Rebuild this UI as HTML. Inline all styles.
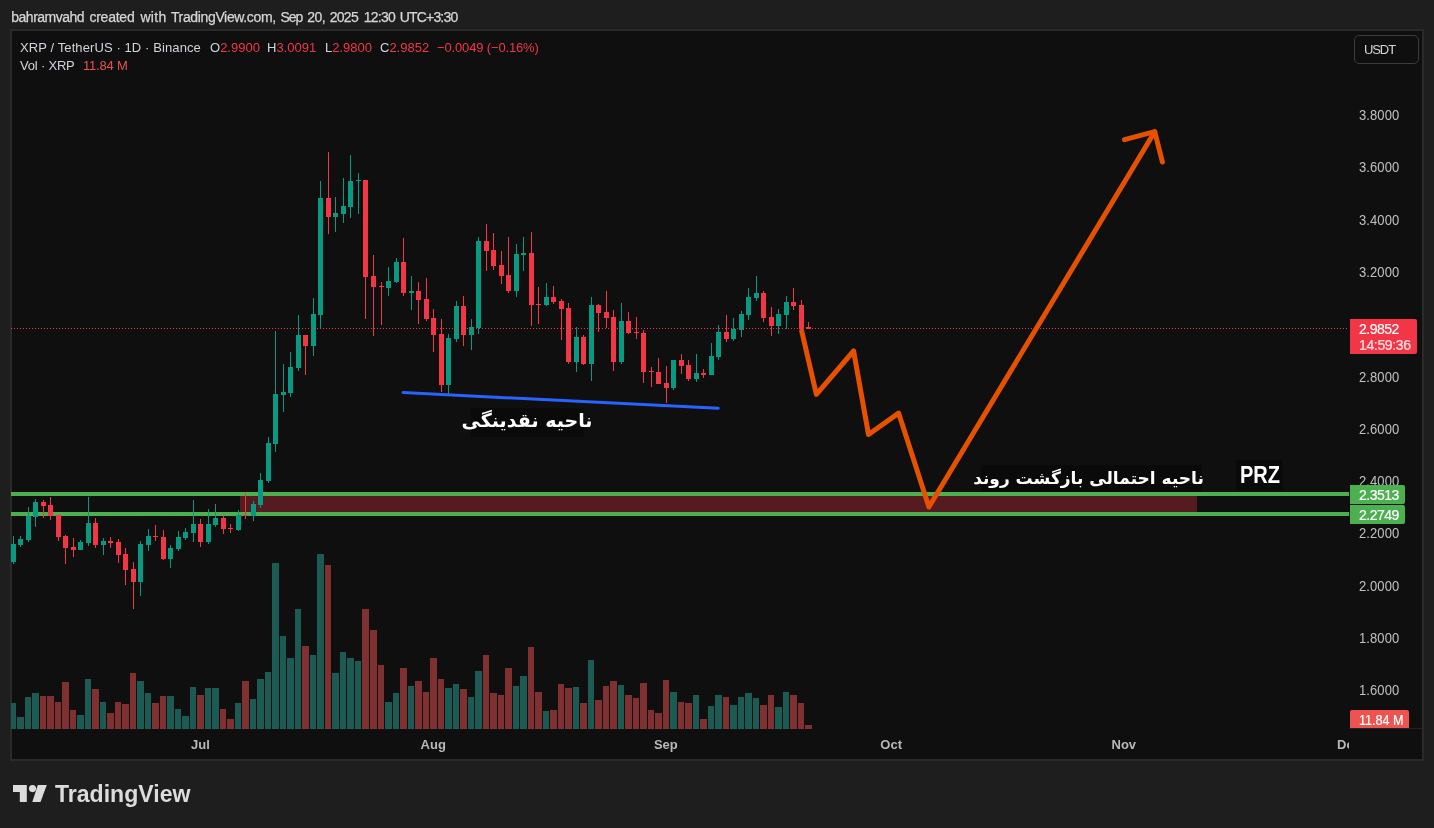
<!DOCTYPE html>
<html><head><meta charset="utf-8"><title>XRP chart</title>
<style>
html,body{margin:0;padding:0}
body{width:1434px;height:828px;background:#1e1e1e;position:relative;overflow:hidden;font-family:"Liberation Sans",sans-serif;color:#d1d4dc}
.abs{position:absolute;white-space:nowrap}
#frame{position:absolute;left:10px;top:29px;width:1414px;height:732px;box-sizing:border-box;border:2px solid #2a2a2a;background:#0f0f0f}
.tw{position:absolute;top:9px;font-size:14px;line-height:16px;color:#d6d6d6;white-space:nowrap;-webkit-text-stroke:0.25px #d6d6d6}
.lg{position:absolute;white-space:nowrap;font-size:13px;line-height:16px;color:#d1d4dc}
.red{color:#f23645}
.pl{position:absolute;left:1359px;width:41px;font-size:13px;line-height:16px;color:#c0c0c0;white-space:nowrap;transform:scaleY(1.15);transform-origin:0 3.5px;letter-spacing:0.1px}
.ml{position:absolute;top:737px;width:40px;text-align:center;font-size:13px;font-weight:bold;line-height:16px;color:#b8b8b8;white-space:nowrap}
.tag{position:absolute;left:1350px;color:#fff;-webkit-text-stroke:0.2px #fff;font-size:14px;letter-spacing:-0.5px;line-height:16px;white-space:nowrap;box-sizing:border-box;padding-left:9px}
svg{position:absolute;left:0;top:0}
#txt,#title{position:absolute;left:0;top:0;width:1434px;height:828px;will-change:transform}
</style></head><body>
<div id="title"><span class="tw" style="left:11.3px;letter-spacing:-0.50px">bahramvahd</span><span class="tw" style="left:89.4px;letter-spacing:-0.23px">created</span><span class="tw" style="left:140.4px;letter-spacing:0.37px">with</span><span class="tw" style="left:170.9px;letter-spacing:-0.35px">TradingView.com,</span><span class="tw" style="left:280.5px;letter-spacing:-1.00px">Sep</span><span class="tw" style="left:307.2px;letter-spacing:-0.55px">20,</span><span class="tw" style="left:329.8px;letter-spacing:-0.76px">2025</span><span class="tw" style="left:363.7px;letter-spacing:-0.72px">12:30</span><span class="tw" style="left:399.7px;letter-spacing:-0.81px">UTC+3:30</span></div>
<div id="frame"></div>
<div class="abs" style="left:1349px;top:728px;width:73px;height:1px;background:#222"></div>
<svg width="1434" height="828" viewBox="0 0 1434 828" shape-rendering="crispEdges">
<defs><clipPath id="cp"><rect x="11" y="31" width="1338" height="698"/></clipPath></defs>
<g clip-path="url(#cp)">
<rect x="10" y="703" width="6" height="26" fill="#1c5a54"/>
<rect x="17" y="717" width="7" height="12" fill="#1c5a54"/>
<rect x="25" y="697" width="6" height="32" fill="#1c5a54"/>
<rect x="32" y="693" width="7" height="36" fill="#1c5a54"/>
<rect x="40" y="696" width="6" height="33" fill="#7f3131"/>
<rect x="47" y="696" width="7" height="33" fill="#7f3131"/>
<rect x="55" y="702" width="6" height="27" fill="#7f3131"/>
<rect x="62" y="682" width="7" height="47" fill="#7f3131"/>
<rect x="70" y="710" width="6" height="19" fill="#7f3131"/>
<rect x="77" y="715" width="7" height="14" fill="#1c5a54"/>
<rect x="85" y="679" width="6" height="50" fill="#1c5a54"/>
<rect x="92" y="689" width="7" height="40" fill="#7f3131"/>
<rect x="100" y="702" width="6" height="27" fill="#1c5a54"/>
<rect x="107" y="713" width="7" height="16" fill="#7f3131"/>
<rect x="115" y="702" width="6" height="27" fill="#7f3131"/>
<rect x="122" y="704" width="7" height="25" fill="#7f3131"/>
<rect x="130" y="673" width="6" height="56" fill="#7f3131"/>
<rect x="137" y="681" width="7" height="48" fill="#1c5a54"/>
<rect x="145" y="693" width="6" height="36" fill="#1c5a54"/>
<rect x="152" y="703" width="7" height="26" fill="#7f3131"/>
<rect x="160" y="696" width="6" height="33" fill="#7f3131"/>
<rect x="167" y="696" width="7" height="33" fill="#1c5a54"/>
<rect x="175" y="709" width="6" height="20" fill="#1c5a54"/>
<rect x="182" y="716" width="7" height="13" fill="#1c5a54"/>
<rect x="190" y="687" width="6" height="42" fill="#1c5a54"/>
<rect x="197" y="695" width="7" height="34" fill="#7f3131"/>
<rect x="205" y="688" width="6" height="41" fill="#1c5a54"/>
<rect x="212" y="688" width="7" height="41" fill="#1c5a54"/>
<rect x="220" y="709" width="6" height="20" fill="#7f3131"/>
<rect x="227" y="719" width="7" height="10" fill="#7f3131"/>
<rect x="235" y="703" width="6" height="26" fill="#1c5a54"/>
<rect x="242" y="681" width="7" height="48" fill="#7f3131"/>
<rect x="250" y="699" width="6" height="30" fill="#1c5a54"/>
<rect x="257" y="679" width="7" height="50" fill="#1c5a54"/>
<rect x="265" y="672" width="6" height="57" fill="#1c5a54"/>
<rect x="272" y="563" width="7" height="166" fill="#1c5a54"/>
<rect x="280" y="636" width="6" height="93" fill="#1c5a54"/>
<rect x="287" y="658" width="7" height="71" fill="#1c5a54"/>
<rect x="295" y="609" width="6" height="120" fill="#1c5a54"/>
<rect x="302" y="646" width="7" height="83" fill="#7f3131"/>
<rect x="310" y="655" width="6" height="74" fill="#1c5a54"/>
<rect x="317" y="554" width="7" height="175" fill="#1c5a54"/>
<rect x="325" y="565" width="6" height="164" fill="#7f3131"/>
<rect x="332" y="673" width="7" height="56" fill="#1c5a54"/>
<rect x="340" y="652" width="6" height="77" fill="#1c5a54"/>
<rect x="347" y="658" width="7" height="71" fill="#1c5a54"/>
<rect x="355" y="661" width="6" height="68" fill="#1c5a54"/>
<rect x="362" y="609" width="7" height="120" fill="#7f3131"/>
<rect x="370" y="630" width="7" height="99" fill="#7f3131"/>
<rect x="378" y="665" width="6" height="64" fill="#7f3131"/>
<rect x="385" y="702" width="7" height="27" fill="#1c5a54"/>
<rect x="393" y="693" width="6" height="36" fill="#1c5a54"/>
<rect x="400" y="668" width="7" height="61" fill="#7f3131"/>
<rect x="408" y="686" width="6" height="43" fill="#1c5a54"/>
<rect x="415" y="681" width="7" height="48" fill="#7f3131"/>
<rect x="423" y="692" width="6" height="37" fill="#7f3131"/>
<rect x="430" y="658" width="7" height="71" fill="#7f3131"/>
<rect x="438" y="679" width="6" height="50" fill="#7f3131"/>
<rect x="445" y="688" width="7" height="41" fill="#1c5a54"/>
<rect x="453" y="684" width="6" height="45" fill="#1c5a54"/>
<rect x="460" y="689" width="7" height="40" fill="#7f3131"/>
<rect x="468" y="697" width="6" height="32" fill="#1c5a54"/>
<rect x="475" y="671" width="7" height="58" fill="#1c5a54"/>
<rect x="483" y="655" width="6" height="74" fill="#7f3131"/>
<rect x="490" y="693" width="7" height="36" fill="#7f3131"/>
<rect x="498" y="695" width="6" height="34" fill="#7f3131"/>
<rect x="505" y="668" width="7" height="61" fill="#7f3131"/>
<rect x="513" y="686" width="6" height="43" fill="#1c5a54"/>
<rect x="520" y="676" width="7" height="53" fill="#1c5a54"/>
<rect x="528" y="647" width="6" height="82" fill="#7f3131"/>
<rect x="535" y="692" width="7" height="37" fill="#7f3131"/>
<rect x="543" y="711" width="6" height="18" fill="#1c5a54"/>
<rect x="550" y="710" width="7" height="19" fill="#7f3131"/>
<rect x="558" y="684" width="6" height="45" fill="#7f3131"/>
<rect x="565" y="688" width="7" height="41" fill="#7f3131"/>
<rect x="573" y="687" width="6" height="42" fill="#1c5a54"/>
<rect x="580" y="703" width="7" height="26" fill="#7f3131"/>
<rect x="588" y="660" width="6" height="69" fill="#1c5a54"/>
<rect x="595" y="700" width="7" height="29" fill="#7f3131"/>
<rect x="603" y="686" width="6" height="43" fill="#7f3131"/>
<rect x="610" y="681" width="7" height="48" fill="#7f3131"/>
<rect x="618" y="685" width="6" height="44" fill="#1c5a54"/>
<rect x="625" y="695" width="7" height="34" fill="#7f3131"/>
<rect x="633" y="698" width="6" height="31" fill="#7f3131"/>
<rect x="640" y="683" width="7" height="46" fill="#7f3131"/>
<rect x="648" y="710" width="6" height="19" fill="#7f3131"/>
<rect x="655" y="713" width="7" height="16" fill="#7f3131"/>
<rect x="663" y="680" width="6" height="49" fill="#7f3131"/>
<rect x="670" y="692" width="7" height="37" fill="#1c5a54"/>
<rect x="678" y="702" width="6" height="27" fill="#7f3131"/>
<rect x="685" y="703" width="7" height="26" fill="#7f3131"/>
<rect x="693" y="695" width="6" height="34" fill="#1c5a54"/>
<rect x="700" y="719" width="7" height="10" fill="#7f3131"/>
<rect x="708" y="706" width="6" height="23" fill="#1c5a54"/>
<rect x="715" y="695" width="7" height="34" fill="#1c5a54"/>
<rect x="723" y="697" width="6" height="32" fill="#7f3131"/>
<rect x="730" y="705" width="7" height="24" fill="#1c5a54"/>
<rect x="738" y="697" width="6" height="32" fill="#1c5a54"/>
<rect x="745" y="693" width="7" height="36" fill="#1c5a54"/>
<rect x="753" y="698" width="6" height="31" fill="#1c5a54"/>
<rect x="760" y="705" width="7" height="24" fill="#7f3131"/>
<rect x="768" y="695" width="6" height="34" fill="#7f3131"/>
<rect x="775" y="707" width="7" height="22" fill="#1c5a54"/>
<rect x="783" y="692" width="6" height="37" fill="#1c5a54"/>
<rect x="790" y="695" width="7" height="34" fill="#7f3131"/>
<rect x="798" y="703" width="6" height="26" fill="#7f3131"/>
<rect x="805" y="725" width="7" height="4" fill="#7f3131"/>
<rect x="240" y="496" width="957" height="16" fill="#561b20"/>
<rect x="11" y="492" width="1338" height="4" fill="#4caf50"/>
<rect x="11" y="512" width="1338" height="4" fill="#4caf50"/>
<g shape-rendering="geometricPrecision"><path d="M403.2 392.6L718.3 408.2" stroke="#2962ff" stroke-width="3" stroke-linecap="round" fill="none"/><path d="M801.7 331L816.4 394.4L853.6 351L868.5 434.5L898.6 413.1L928.9 507L1154.7 131.7" stroke="#e65100" stroke-width="5" stroke-linecap="round" stroke-linejoin="round" fill="none"/><path d="M1124.5 139.6L1154.7 131.7L1162.4 162" stroke="#e65100" stroke-width="5" stroke-linecap="round" stroke-linejoin="round" fill="none"/></g>
<rect x="13" y="536" width="1" height="28" fill="#089981"/>
<rect x="11" y="544" width="5" height="18" fill="#089981"/>
<rect x="20" y="536" width="1" height="11" fill="#089981"/>
<rect x="18" y="539" width="5" height="6" fill="#089981"/>
<rect x="28" y="507" width="1" height="35" fill="#089981"/>
<rect x="26" y="516" width="5" height="24" fill="#089981"/>
<rect x="35" y="499" width="1" height="28" fill="#089981"/>
<rect x="33" y="502" width="5" height="15" fill="#089981"/>
<rect x="43" y="500" width="1" height="18" fill="#f23645"/>
<rect x="41" y="502" width="5" height="4" fill="#f23645"/>
<rect x="50" y="497" width="1" height="23" fill="#f23645"/>
<rect x="48" y="505" width="5" height="11" fill="#f23645"/>
<rect x="58" y="514" width="1" height="27" fill="#f23645"/>
<rect x="56" y="515" width="5" height="22" fill="#f23645"/>
<rect x="65" y="535" width="1" height="29" fill="#f23645"/>
<rect x="63" y="536" width="5" height="12" fill="#f23645"/>
<rect x="73" y="538" width="1" height="19" fill="#f23645"/>
<rect x="71" y="547" width="5" height="3" fill="#f23645"/>
<rect x="80" y="540" width="1" height="10" fill="#089981"/>
<rect x="78" y="542" width="5" height="8" fill="#089981"/>
<rect x="88" y="497" width="1" height="49" fill="#089981"/>
<rect x="86" y="523" width="5" height="20" fill="#089981"/>
<rect x="95" y="518" width="1" height="30" fill="#f23645"/>
<rect x="93" y="523" width="5" height="22" fill="#f23645"/>
<rect x="103" y="538" width="1" height="17" fill="#089981"/>
<rect x="101" y="541" width="5" height="4" fill="#089981"/>
<rect x="110" y="537" width="1" height="11" fill="#f23645"/>
<rect x="108" y="541" width="5" height="2" fill="#f23645"/>
<rect x="118" y="539" width="1" height="24" fill="#f23645"/>
<rect x="116" y="542" width="5" height="13" fill="#f23645"/>
<rect x="125" y="548" width="1" height="37" fill="#f23645"/>
<rect x="123" y="554" width="5" height="16" fill="#f23645"/>
<rect x="133" y="562" width="1" height="47" fill="#f23645"/>
<rect x="131" y="569" width="5" height="13" fill="#f23645"/>
<rect x="140" y="541" width="1" height="55" fill="#089981"/>
<rect x="138" y="544" width="5" height="38" fill="#089981"/>
<rect x="148" y="529" width="1" height="22" fill="#089981"/>
<rect x="146" y="536" width="5" height="9" fill="#089981"/>
<rect x="155" y="525" width="1" height="16" fill="#f23645"/>
<rect x="153" y="536" width="5" height="1" fill="#f23645"/>
<rect x="163" y="530" width="1" height="30" fill="#f23645"/>
<rect x="161" y="537" width="5" height="22" fill="#f23645"/>
<rect x="170" y="545" width="1" height="23" fill="#089981"/>
<rect x="168" y="548" width="5" height="11" fill="#089981"/>
<rect x="178" y="531" width="1" height="20" fill="#089981"/>
<rect x="176" y="537" width="5" height="12" fill="#089981"/>
<rect x="185" y="528" width="1" height="12" fill="#089981"/>
<rect x="183" y="532" width="5" height="6" fill="#089981"/>
<rect x="193" y="500" width="1" height="42" fill="#089981"/>
<rect x="191" y="524" width="5" height="9" fill="#089981"/>
<rect x="200" y="519" width="1" height="28" fill="#f23645"/>
<rect x="198" y="524" width="5" height="18" fill="#f23645"/>
<rect x="208" y="509" width="1" height="35" fill="#089981"/>
<rect x="206" y="524" width="5" height="18" fill="#089981"/>
<rect x="215" y="504" width="1" height="23" fill="#089981"/>
<rect x="213" y="518" width="5" height="7" fill="#089981"/>
<rect x="223" y="515" width="1" height="19" fill="#f23645"/>
<rect x="221" y="518" width="5" height="11" fill="#f23645"/>
<rect x="230" y="524" width="1" height="9" fill="#f23645"/>
<rect x="228" y="528" width="5" height="1" fill="#f23645"/>
<rect x="238" y="510" width="1" height="21" fill="#089981"/>
<rect x="236" y="515" width="5" height="15" fill="#089981"/>
<rect x="245" y="493" width="1" height="26" fill="#f23645"/>
<rect x="243" y="515" width="5" height="1" fill="#f23645"/>
<rect x="253" y="501" width="1" height="20" fill="#089981"/>
<rect x="251" y="504" width="5" height="12" fill="#089981"/>
<rect x="260" y="473" width="1" height="35" fill="#089981"/>
<rect x="258" y="480" width="5" height="25" fill="#089981"/>
<rect x="268" y="437" width="1" height="46" fill="#089981"/>
<rect x="266" y="443" width="5" height="38" fill="#089981"/>
<rect x="275" y="331" width="1" height="121" fill="#089981"/>
<rect x="273" y="394" width="5" height="50" fill="#089981"/>
<rect x="283" y="364" width="1" height="48" fill="#089981"/>
<rect x="281" y="392" width="5" height="3" fill="#089981"/>
<rect x="290" y="352" width="1" height="45" fill="#089981"/>
<rect x="288" y="367" width="5" height="26" fill="#089981"/>
<rect x="298" y="315" width="1" height="56" fill="#089981"/>
<rect x="296" y="335" width="5" height="33" fill="#089981"/>
<rect x="305" y="335" width="1" height="40" fill="#f23645"/>
<rect x="303" y="335" width="5" height="11" fill="#f23645"/>
<rect x="313" y="298" width="1" height="58" fill="#089981"/>
<rect x="311" y="314" width="5" height="32" fill="#089981"/>
<rect x="320" y="181" width="1" height="147" fill="#089981"/>
<rect x="318" y="198" width="5" height="117" fill="#089981"/>
<rect x="328" y="152" width="1" height="82" fill="#f23645"/>
<rect x="326" y="198" width="5" height="19" fill="#f23645"/>
<rect x="335" y="197" width="1" height="35" fill="#089981"/>
<rect x="333" y="213" width="5" height="4" fill="#089981"/>
<rect x="343" y="178" width="1" height="45" fill="#089981"/>
<rect x="341" y="206" width="5" height="8" fill="#089981"/>
<rect x="350" y="155" width="1" height="63" fill="#089981"/>
<rect x="348" y="181" width="5" height="26" fill="#089981"/>
<rect x="358" y="173" width="1" height="41" fill="#089981"/>
<rect x="356" y="180" width="5" height="1" fill="#089981"/>
<rect x="365" y="180" width="1" height="139" fill="#f23645"/>
<rect x="363" y="180" width="5" height="97" fill="#f23645"/>
<rect x="373" y="255" width="1" height="81" fill="#f23645"/>
<rect x="371" y="276" width="5" height="11" fill="#f23645"/>
<rect x="381" y="282" width="1" height="43" fill="#f23645"/>
<rect x="379" y="286" width="5" height="1" fill="#f23645"/>
<rect x="388" y="267" width="1" height="29" fill="#089981"/>
<rect x="386" y="281" width="5" height="7" fill="#089981"/>
<rect x="396" y="258" width="1" height="25" fill="#089981"/>
<rect x="394" y="262" width="5" height="20" fill="#089981"/>
<rect x="403" y="238" width="1" height="58" fill="#f23645"/>
<rect x="401" y="262" width="5" height="31" fill="#f23645"/>
<rect x="411" y="276" width="1" height="34" fill="#089981"/>
<rect x="409" y="291" width="5" height="2" fill="#089981"/>
<rect x="418" y="282" width="1" height="42" fill="#f23645"/>
<rect x="416" y="291" width="5" height="9" fill="#f23645"/>
<rect x="426" y="278" width="1" height="43" fill="#f23645"/>
<rect x="424" y="299" width="5" height="20" fill="#f23645"/>
<rect x="433" y="309" width="1" height="43" fill="#f23645"/>
<rect x="431" y="318" width="5" height="17" fill="#f23645"/>
<rect x="441" y="319" width="1" height="73" fill="#f23645"/>
<rect x="439" y="334" width="5" height="51" fill="#f23645"/>
<rect x="448" y="334" width="1" height="60" fill="#089981"/>
<rect x="446" y="338" width="5" height="47" fill="#089981"/>
<rect x="456" y="301" width="1" height="41" fill="#089981"/>
<rect x="454" y="306" width="5" height="33" fill="#089981"/>
<rect x="463" y="296" width="1" height="50" fill="#f23645"/>
<rect x="461" y="306" width="5" height="29" fill="#f23645"/>
<rect x="471" y="319" width="1" height="31" fill="#089981"/>
<rect x="469" y="327" width="5" height="8" fill="#089981"/>
<rect x="478" y="237" width="1" height="97" fill="#089981"/>
<rect x="476" y="241" width="5" height="87" fill="#089981"/>
<rect x="486" y="224" width="1" height="47" fill="#f23645"/>
<rect x="484" y="241" width="5" height="10" fill="#f23645"/>
<rect x="493" y="233" width="1" height="37" fill="#f23645"/>
<rect x="491" y="250" width="5" height="16" fill="#f23645"/>
<rect x="501" y="251" width="1" height="33" fill="#f23645"/>
<rect x="499" y="265" width="5" height="11" fill="#f23645"/>
<rect x="508" y="237" width="1" height="56" fill="#f23645"/>
<rect x="506" y="275" width="5" height="16" fill="#f23645"/>
<rect x="516" y="244" width="1" height="53" fill="#089981"/>
<rect x="514" y="254" width="5" height="37" fill="#089981"/>
<rect x="523" y="237" width="1" height="34" fill="#089981"/>
<rect x="521" y="253" width="5" height="2" fill="#089981"/>
<rect x="531" y="232" width="1" height="94" fill="#f23645"/>
<rect x="529" y="253" width="5" height="52" fill="#f23645"/>
<rect x="538" y="287" width="1" height="37" fill="#f23645"/>
<rect x="536" y="304" width="5" height="1" fill="#f23645"/>
<rect x="546" y="283" width="1" height="23" fill="#089981"/>
<rect x="544" y="297" width="5" height="8" fill="#089981"/>
<rect x="553" y="286" width="1" height="18" fill="#f23645"/>
<rect x="551" y="297" width="5" height="5" fill="#f23645"/>
<rect x="561" y="299" width="1" height="41" fill="#f23645"/>
<rect x="559" y="301" width="5" height="8" fill="#f23645"/>
<rect x="568" y="303" width="1" height="61" fill="#f23645"/>
<rect x="566" y="308" width="5" height="54" fill="#f23645"/>
<rect x="576" y="327" width="1" height="45" fill="#089981"/>
<rect x="574" y="337" width="5" height="25" fill="#089981"/>
<rect x="583" y="335" width="1" height="30" fill="#f23645"/>
<rect x="581" y="337" width="5" height="27" fill="#f23645"/>
<rect x="591" y="297" width="1" height="84" fill="#089981"/>
<rect x="589" y="305" width="5" height="59" fill="#089981"/>
<rect x="598" y="304" width="1" height="28" fill="#f23645"/>
<rect x="596" y="305" width="5" height="8" fill="#f23645"/>
<rect x="606" y="291" width="1" height="37" fill="#f23645"/>
<rect x="604" y="312" width="5" height="6" fill="#f23645"/>
<rect x="613" y="310" width="1" height="61" fill="#f23645"/>
<rect x="611" y="317" width="5" height="45" fill="#f23645"/>
<rect x="621" y="303" width="1" height="61" fill="#089981"/>
<rect x="619" y="321" width="5" height="41" fill="#089981"/>
<rect x="628" y="312" width="1" height="22" fill="#f23645"/>
<rect x="626" y="321" width="5" height="12" fill="#f23645"/>
<rect x="636" y="317" width="1" height="22" fill="#f23645"/>
<rect x="634" y="332" width="5" height="1" fill="#f23645"/>
<rect x="643" y="330" width="1" height="53" fill="#f23645"/>
<rect x="641" y="333" width="5" height="39" fill="#f23645"/>
<rect x="651" y="367" width="1" height="20" fill="#f23645"/>
<rect x="649" y="371" width="5" height="1" fill="#f23645"/>
<rect x="658" y="358" width="1" height="26" fill="#f23645"/>
<rect x="656" y="372" width="5" height="12" fill="#f23645"/>
<rect x="666" y="366" width="1" height="37" fill="#f23645"/>
<rect x="664" y="383" width="5" height="5" fill="#f23645"/>
<rect x="673" y="360" width="1" height="30" fill="#089981"/>
<rect x="671" y="360" width="5" height="28" fill="#089981"/>
<rect x="681" y="354" width="1" height="20" fill="#f23645"/>
<rect x="679" y="360" width="5" height="6" fill="#f23645"/>
<rect x="688" y="360" width="1" height="21" fill="#f23645"/>
<rect x="686" y="365" width="5" height="14" fill="#f23645"/>
<rect x="696" y="354" width="1" height="28" fill="#089981"/>
<rect x="694" y="373" width="5" height="6" fill="#089981"/>
<rect x="703" y="369" width="1" height="9" fill="#f23645"/>
<rect x="701" y="373" width="5" height="2" fill="#f23645"/>
<rect x="711" y="343" width="1" height="32" fill="#089981"/>
<rect x="709" y="356" width="5" height="19" fill="#089981"/>
<rect x="718" y="325" width="1" height="35" fill="#089981"/>
<rect x="716" y="332" width="5" height="25" fill="#089981"/>
<rect x="726" y="315" width="1" height="27" fill="#f23645"/>
<rect x="724" y="332" width="5" height="7" fill="#f23645"/>
<rect x="733" y="318" width="1" height="23" fill="#089981"/>
<rect x="731" y="329" width="5" height="10" fill="#089981"/>
<rect x="741" y="311" width="1" height="26" fill="#089981"/>
<rect x="739" y="314" width="5" height="16" fill="#089981"/>
<rect x="748" y="288" width="1" height="32" fill="#089981"/>
<rect x="746" y="297" width="5" height="18" fill="#089981"/>
<rect x="756" y="276" width="1" height="25" fill="#089981"/>
<rect x="754" y="293" width="5" height="5" fill="#089981"/>
<rect x="763" y="291" width="1" height="31" fill="#f23645"/>
<rect x="761" y="293" width="5" height="25" fill="#f23645"/>
<rect x="771" y="307" width="1" height="29" fill="#f23645"/>
<rect x="769" y="317" width="5" height="9" fill="#f23645"/>
<rect x="778" y="309" width="1" height="25" fill="#089981"/>
<rect x="776" y="314" width="5" height="12" fill="#089981"/>
<rect x="786" y="296" width="1" height="33" fill="#089981"/>
<rect x="784" y="302" width="5" height="13" fill="#089981"/>
<rect x="793" y="288" width="1" height="22" fill="#f23645"/>
<rect x="791" y="302" width="5" height="4" fill="#f23645"/>
<rect x="801" y="300" width="1" height="29" fill="#f23645"/>
<rect x="799" y="305" width="5" height="24" fill="#f23645"/>
<rect x="808" y="322" width="1" height="7" fill="#f23645"/>
<rect x="806" y="327" width="5" height="2" fill="#f23645"/>
<path d="M11 328h1v1h-1zM14 328h1v1h-1zM17 328h1v1h-1zM20 328h1v1h-1zM23 328h1v1h-1zM26 328h1v1h-1zM29 328h1v1h-1zM32 328h1v1h-1zM35 328h1v1h-1zM38 328h1v1h-1zM41 328h1v1h-1zM44 328h1v1h-1zM47 328h1v1h-1zM50 328h1v1h-1zM53 328h1v1h-1zM56 328h1v1h-1zM59 328h1v1h-1zM62 328h1v1h-1zM65 328h1v1h-1zM68 328h1v1h-1zM71 328h1v1h-1zM74 328h1v1h-1zM77 328h1v1h-1zM80 328h1v1h-1zM83 328h1v1h-1zM86 328h1v1h-1zM89 328h1v1h-1zM92 328h1v1h-1zM95 328h1v1h-1zM98 328h1v1h-1zM101 328h1v1h-1zM104 328h1v1h-1zM107 328h1v1h-1zM110 328h1v1h-1zM113 328h1v1h-1zM116 328h1v1h-1zM119 328h1v1h-1zM122 328h1v1h-1zM125 328h1v1h-1zM128 328h1v1h-1zM131 328h1v1h-1zM134 328h1v1h-1zM137 328h1v1h-1zM140 328h1v1h-1zM143 328h1v1h-1zM146 328h1v1h-1zM149 328h1v1h-1zM152 328h1v1h-1zM155 328h1v1h-1zM158 328h1v1h-1zM161 328h1v1h-1zM164 328h1v1h-1zM167 328h1v1h-1zM170 328h1v1h-1zM173 328h1v1h-1zM176 328h1v1h-1zM179 328h1v1h-1zM182 328h1v1h-1zM185 328h1v1h-1zM188 328h1v1h-1zM191 328h1v1h-1zM194 328h1v1h-1zM197 328h1v1h-1zM200 328h1v1h-1zM203 328h1v1h-1zM206 328h1v1h-1zM209 328h1v1h-1zM212 328h1v1h-1zM215 328h1v1h-1zM218 328h1v1h-1zM221 328h1v1h-1zM224 328h1v1h-1zM227 328h1v1h-1zM230 328h1v1h-1zM233 328h1v1h-1zM236 328h1v1h-1zM239 328h1v1h-1zM242 328h1v1h-1zM245 328h1v1h-1zM248 328h1v1h-1zM251 328h1v1h-1zM254 328h1v1h-1zM257 328h1v1h-1zM260 328h1v1h-1zM263 328h1v1h-1zM266 328h1v1h-1zM269 328h1v1h-1zM272 328h1v1h-1zM275 328h1v1h-1zM278 328h1v1h-1zM281 328h1v1h-1zM284 328h1v1h-1zM287 328h1v1h-1zM290 328h1v1h-1zM293 328h1v1h-1zM296 328h1v1h-1zM299 328h1v1h-1zM302 328h1v1h-1zM305 328h1v1h-1zM308 328h1v1h-1zM311 328h1v1h-1zM314 328h1v1h-1zM317 328h1v1h-1zM320 328h1v1h-1zM323 328h1v1h-1zM326 328h1v1h-1zM329 328h1v1h-1zM332 328h1v1h-1zM335 328h1v1h-1zM338 328h1v1h-1zM341 328h1v1h-1zM344 328h1v1h-1zM347 328h1v1h-1zM350 328h1v1h-1zM353 328h1v1h-1zM356 328h1v1h-1zM359 328h1v1h-1zM362 328h1v1h-1zM365 328h1v1h-1zM368 328h1v1h-1zM371 328h1v1h-1zM374 328h1v1h-1zM377 328h1v1h-1zM380 328h1v1h-1zM383 328h1v1h-1zM386 328h1v1h-1zM389 328h1v1h-1zM392 328h1v1h-1zM395 328h1v1h-1zM398 328h1v1h-1zM401 328h1v1h-1zM404 328h1v1h-1zM407 328h1v1h-1zM410 328h1v1h-1zM413 328h1v1h-1zM416 328h1v1h-1zM419 328h1v1h-1zM422 328h1v1h-1zM425 328h1v1h-1zM428 328h1v1h-1zM431 328h1v1h-1zM434 328h1v1h-1zM437 328h1v1h-1zM440 328h1v1h-1zM443 328h1v1h-1zM446 328h1v1h-1zM449 328h1v1h-1zM452 328h1v1h-1zM455 328h1v1h-1zM458 328h1v1h-1zM461 328h1v1h-1zM464 328h1v1h-1zM467 328h1v1h-1zM470 328h1v1h-1zM473 328h1v1h-1zM476 328h1v1h-1zM479 328h1v1h-1zM482 328h1v1h-1zM485 328h1v1h-1zM488 328h1v1h-1zM491 328h1v1h-1zM494 328h1v1h-1zM497 328h1v1h-1zM500 328h1v1h-1zM503 328h1v1h-1zM506 328h1v1h-1zM509 328h1v1h-1zM512 328h1v1h-1zM515 328h1v1h-1zM518 328h1v1h-1zM521 328h1v1h-1zM524 328h1v1h-1zM527 328h1v1h-1zM530 328h1v1h-1zM533 328h1v1h-1zM536 328h1v1h-1zM539 328h1v1h-1zM542 328h1v1h-1zM545 328h1v1h-1zM548 328h1v1h-1zM551 328h1v1h-1zM554 328h1v1h-1zM557 328h1v1h-1zM560 328h1v1h-1zM563 328h1v1h-1zM566 328h1v1h-1zM569 328h1v1h-1zM572 328h1v1h-1zM575 328h1v1h-1zM578 328h1v1h-1zM581 328h1v1h-1zM584 328h1v1h-1zM587 328h1v1h-1zM590 328h1v1h-1zM593 328h1v1h-1zM596 328h1v1h-1zM599 328h1v1h-1zM602 328h1v1h-1zM605 328h1v1h-1zM608 328h1v1h-1zM611 328h1v1h-1zM614 328h1v1h-1zM617 328h1v1h-1zM620 328h1v1h-1zM623 328h1v1h-1zM626 328h1v1h-1zM629 328h1v1h-1zM632 328h1v1h-1zM635 328h1v1h-1zM638 328h1v1h-1zM641 328h1v1h-1zM644 328h1v1h-1zM647 328h1v1h-1zM650 328h1v1h-1zM653 328h1v1h-1zM656 328h1v1h-1zM659 328h1v1h-1zM662 328h1v1h-1zM665 328h1v1h-1zM668 328h1v1h-1zM671 328h1v1h-1zM674 328h1v1h-1zM677 328h1v1h-1zM680 328h1v1h-1zM683 328h1v1h-1zM686 328h1v1h-1zM689 328h1v1h-1zM692 328h1v1h-1zM695 328h1v1h-1zM698 328h1v1h-1zM701 328h1v1h-1zM704 328h1v1h-1zM707 328h1v1h-1zM710 328h1v1h-1zM713 328h1v1h-1zM716 328h1v1h-1zM719 328h1v1h-1zM722 328h1v1h-1zM725 328h1v1h-1zM728 328h1v1h-1zM731 328h1v1h-1zM734 328h1v1h-1zM737 328h1v1h-1zM740 328h1v1h-1zM743 328h1v1h-1zM746 328h1v1h-1zM749 328h1v1h-1zM752 328h1v1h-1zM755 328h1v1h-1zM758 328h1v1h-1zM761 328h1v1h-1zM764 328h1v1h-1zM767 328h1v1h-1zM770 328h1v1h-1zM773 328h1v1h-1zM776 328h1v1h-1zM779 328h1v1h-1zM782 328h1v1h-1zM785 328h1v1h-1zM788 328h1v1h-1zM791 328h1v1h-1zM794 328h1v1h-1zM797 328h1v1h-1zM800 328h1v1h-1zM803 328h1v1h-1zM806 328h1v1h-1zM809 328h1v1h-1zM812 328h1v1h-1zM815 328h1v1h-1zM818 328h1v1h-1zM821 328h1v1h-1zM824 328h1v1h-1zM827 328h1v1h-1zM830 328h1v1h-1zM833 328h1v1h-1zM836 328h1v1h-1zM839 328h1v1h-1zM842 328h1v1h-1zM845 328h1v1h-1zM848 328h1v1h-1zM851 328h1v1h-1zM854 328h1v1h-1zM857 328h1v1h-1zM860 328h1v1h-1zM863 328h1v1h-1zM866 328h1v1h-1zM869 328h1v1h-1zM872 328h1v1h-1zM875 328h1v1h-1zM878 328h1v1h-1zM881 328h1v1h-1zM884 328h1v1h-1zM887 328h1v1h-1zM890 328h1v1h-1zM893 328h1v1h-1zM896 328h1v1h-1zM899 328h1v1h-1zM902 328h1v1h-1zM905 328h1v1h-1zM908 328h1v1h-1zM911 328h1v1h-1zM914 328h1v1h-1zM917 328h1v1h-1zM920 328h1v1h-1zM923 328h1v1h-1zM926 328h1v1h-1zM929 328h1v1h-1zM932 328h1v1h-1zM935 328h1v1h-1zM938 328h1v1h-1zM941 328h1v1h-1zM944 328h1v1h-1zM947 328h1v1h-1zM950 328h1v1h-1zM953 328h1v1h-1zM956 328h1v1h-1zM959 328h1v1h-1zM962 328h1v1h-1zM965 328h1v1h-1zM968 328h1v1h-1zM971 328h1v1h-1zM974 328h1v1h-1zM977 328h1v1h-1zM980 328h1v1h-1zM983 328h1v1h-1zM986 328h1v1h-1zM989 328h1v1h-1zM992 328h1v1h-1zM995 328h1v1h-1zM998 328h1v1h-1zM1001 328h1v1h-1zM1004 328h1v1h-1zM1007 328h1v1h-1zM1010 328h1v1h-1zM1013 328h1v1h-1zM1016 328h1v1h-1zM1019 328h1v1h-1zM1022 328h1v1h-1zM1025 328h1v1h-1zM1028 328h1v1h-1zM1031 328h1v1h-1zM1034 328h1v1h-1zM1037 328h1v1h-1zM1040 328h1v1h-1zM1043 328h1v1h-1zM1046 328h1v1h-1zM1049 328h1v1h-1zM1052 328h1v1h-1zM1055 328h1v1h-1zM1058 328h1v1h-1zM1061 328h1v1h-1zM1064 328h1v1h-1zM1067 328h1v1h-1zM1070 328h1v1h-1zM1073 328h1v1h-1zM1076 328h1v1h-1zM1079 328h1v1h-1zM1082 328h1v1h-1zM1085 328h1v1h-1zM1088 328h1v1h-1zM1091 328h1v1h-1zM1094 328h1v1h-1zM1097 328h1v1h-1zM1100 328h1v1h-1zM1103 328h1v1h-1zM1106 328h1v1h-1zM1109 328h1v1h-1zM1112 328h1v1h-1zM1115 328h1v1h-1zM1118 328h1v1h-1zM1121 328h1v1h-1zM1124 328h1v1h-1zM1127 328h1v1h-1zM1130 328h1v1h-1zM1133 328h1v1h-1zM1136 328h1v1h-1zM1139 328h1v1h-1zM1142 328h1v1h-1zM1145 328h1v1h-1zM1148 328h1v1h-1zM1151 328h1v1h-1zM1154 328h1v1h-1zM1157 328h1v1h-1zM1160 328h1v1h-1zM1163 328h1v1h-1zM1166 328h1v1h-1zM1169 328h1v1h-1zM1172 328h1v1h-1zM1175 328h1v1h-1zM1178 328h1v1h-1zM1181 328h1v1h-1zM1184 328h1v1h-1zM1187 328h1v1h-1zM1190 328h1v1h-1zM1193 328h1v1h-1zM1196 328h1v1h-1zM1199 328h1v1h-1zM1202 328h1v1h-1zM1205 328h1v1h-1zM1208 328h1v1h-1zM1211 328h1v1h-1zM1214 328h1v1h-1zM1217 328h1v1h-1zM1220 328h1v1h-1zM1223 328h1v1h-1zM1226 328h1v1h-1zM1229 328h1v1h-1zM1232 328h1v1h-1zM1235 328h1v1h-1zM1238 328h1v1h-1zM1241 328h1v1h-1zM1244 328h1v1h-1zM1247 328h1v1h-1zM1250 328h1v1h-1zM1253 328h1v1h-1zM1256 328h1v1h-1zM1259 328h1v1h-1zM1262 328h1v1h-1zM1265 328h1v1h-1zM1268 328h1v1h-1zM1271 328h1v1h-1zM1274 328h1v1h-1zM1277 328h1v1h-1zM1280 328h1v1h-1zM1283 328h1v1h-1zM1286 328h1v1h-1zM1289 328h1v1h-1zM1292 328h1v1h-1zM1295 328h1v1h-1zM1298 328h1v1h-1zM1301 328h1v1h-1zM1304 328h1v1h-1zM1307 328h1v1h-1zM1310 328h1v1h-1zM1313 328h1v1h-1zM1316 328h1v1h-1zM1319 328h1v1h-1zM1322 328h1v1h-1zM1325 328h1v1h-1zM1328 328h1v1h-1zM1331 328h1v1h-1zM1334 328h1v1h-1zM1337 328h1v1h-1zM1340 328h1v1h-1zM1343 328h1v1h-1zM1346 328h1v1h-1z" fill="#f23645"/>
</g>
</svg>
<div class="abs" style="left:471px;top:408px;width:113px;height:29px;background:#0a0a0a"></div>
<div class="abs" style="left:981px;top:465px;width:221px;height:27px;background:#0a0a0a"></div>
<div class="abs" style="left:1236px;top:460px;width:47px;height:30px;background:#0a0a0a"></div>
<svg width="1434" height="828" viewBox="0 0 1434 828">
<text x="527" y="427" font-size="19" font-weight="bold" fill="#fff" text-anchor="middle" direction="rtl" font-family="'DejaVu Sans', sans-serif">ناحیه نقدینگی</text>
<text x="1088.5" y="483.9" font-size="17" font-weight="bold" fill="#fff" text-anchor="middle" direction="rtl" font-family="'DejaVu Sans', sans-serif">ناحیه احتمالی بازگشت روند</text>
<g fill="#dcdcdc">
<path d="M13 785H26.8V801.9H19.8V792.1H13Z"/>
<circle cx="32.5" cy="788.6" r="3.55"/>
<path d="M37.8 785H46.8L40.5 801.9H32.3Z"/>
<text x="54.9" y="802" font-size="24" font-weight="bold" fill="#dcdcdc" textLength="135.6" lengthAdjust="spacingAndGlyphs" font-family="'Liberation Sans', sans-serif">TradingView</text>
</g>
</svg>
<div id="txt">
<div class="abs" style="left:1239.5px;top:463px;font-size:23px;font-weight:bold;line-height:24px;color:#fff;transform:scaleX(0.87);transform-origin:0 0">PRZ</div>
<div class="lg" style="left:20px;top:40px;letter-spacing:0.1px">XRP / TetherUS · 1D · Binance</div>
<div class="lg" style="left:210px;top:40px">O<span class="red">2.9900</span></div>
<div class="lg" style="left:267px;top:40px">H<span class="red">3.0091</span></div>
<div class="lg" style="left:325px;top:40px">L<span class="red">2.9800</span></div>
<div class="lg" style="left:380px;top:40px">C<span class="red">2.9852</span></div>
<div class="lg red" style="left:437px;top:40px;letter-spacing:-0.15px">−0.0049 (−0.16%)</div>
<div class="lg" style="left:20px;top:58px;letter-spacing:-0.2px">Vol · XRP</div>
<div class="lg" style="left:83px;top:58px;color:#e8514e;letter-spacing:-0.2px">11.84 M</div>
<div class="abs" style="left:1354px;top:35px;width:65px;height:29px;box-sizing:border-box;border:1px solid #3c3c3c;border-radius:5px;font-size:13px;line-height:28px;padding-left:9px;letter-spacing:-1.1px;color:#d6d6d6">USDT</div>
<div class="pl" style="top:107.0px">3.8000</div><div class="pl" style="top:159.3px">3.6000</div><div class="pl" style="top:211.6px">3.4000</div><div class="pl" style="top:263.9px">3.2000</div><div class="pl" style="top:368.5px">2.8000</div><div class="pl" style="top:420.8px">2.6000</div><div class="pl" style="top:473.1px">2.4000</div><div class="pl" style="top:525.4px">2.2000</div><div class="pl" style="top:577.7px">2.0000</div><div class="pl" style="top:630.0px">1.8000</div><div class="pl" style="top:682.3px">1.6000</div>
<div class="tag" style="top:319px;width:67px;height:35px;background:#f23645;border-radius:0 2px 2px 0;padding-top:2px">2.9852<br><span style="color:rgba(255,255,255,0.8);letter-spacing:-0.35px">14:59:36</span></div>
<div class="tag" style="top:485px;width:55px;height:19px;background:#4caf50;border-radius:0 2px 2px 0;padding-top:2px">2.3513</div>
<div class="tag" style="top:505px;width:55px;height:19px;background:#4caf50;border-radius:0 2px 2px 0;padding-top:2px">2.2749</div>
<div class="tag" style="top:710px;width:59px;height:18px;background:#ef5350;border-radius:2px 2px 0 0;padding-top:2px;letter-spacing:0"><span style="display:inline-block;transform:scaleX(0.9);transform-origin:0 0">11.84 M</span></div>
<div class="ml" style="left:180.5px">Jul</div><div class="ml" style="left:413.2px">Aug</div><div class="ml" style="left:645.8px">Sep</div><div class="ml" style="left:871.2px">Oct</div><div class="ml" style="left:1103.8px">Nov</div>
<div class="abs" style="left:1329px;top:737px;width:20px;height:16px;overflow:hidden"><div class="ml" style="left:0;top:0;text-align:left;left:8px">Dec</div></div>
</div>
</body></html>
